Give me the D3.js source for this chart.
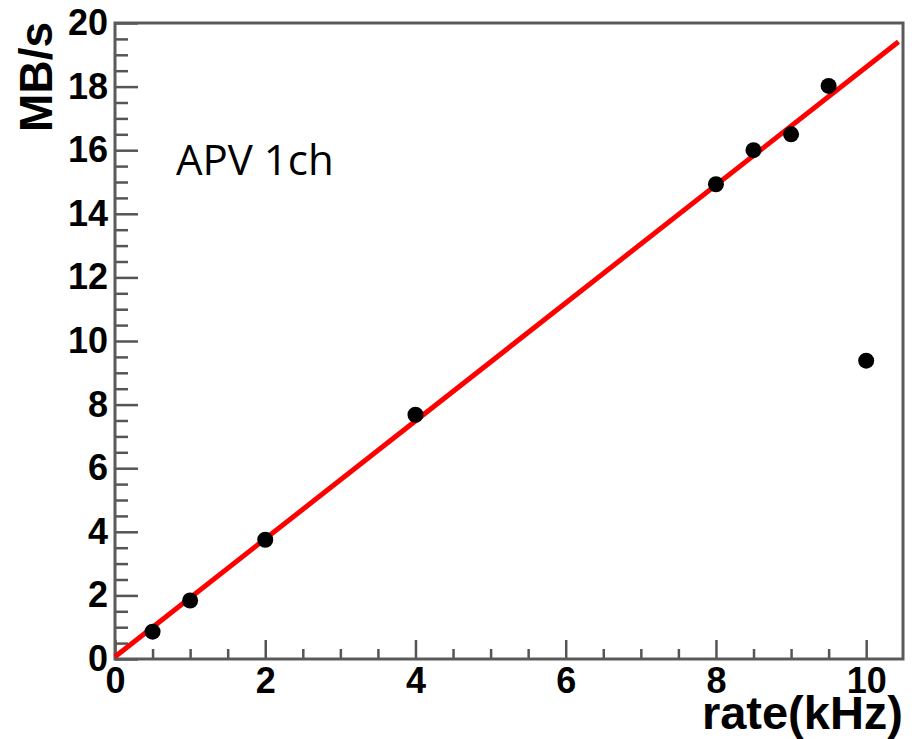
<!DOCTYPE html>
<html>
<head>
<meta charset="utf-8">
<script src="https://cdn.jsdelivr.net/npm/d3@7"></script>
<style>
  body { margin: 0; background: #fff; }
  .tick text { font-family: "Liberation Sans", Arial, sans-serif; font-weight: bold; fill: #000; }
</style>
</head>
<body>
<div id="chart"></div>
<script>
var width = 916, height = 739;

// data
var rate = [0.5, 1, 2, 4, 8, 8.5, 9, 9.5, 10];      // kHz
var mbps = [0.86, 1.84, 3.75, 7.68, 14.93, 16.0, 16.5, 18.02, 9.38]; // MB/s
var fitX = [0, 10.43];       // red fit line end points
var fitY = [0.07, 19.41];
var xTicks = [0, 2, 4, 6, 8, 10];
var yTicks = [0, 2, 4, 6, 8, 10, 12, 14, 16, 18, 20];

var frame = {left: 115, right: 903, top: 23, bottom: 659};

var x = d3.scaleLinear().domain([0, 10.49]).range([frame.left, frame.right]);
var y = d3.scaleLinear().domain([0, 20]).range([frame.bottom, frame.top]);

var svg = d3.select("#chart").append("svg")
    .attr("width", width)
    .attr("height", height);

// minor ticks every 0.5
var xMinor = d3.range(0, 10.5, 0.5).filter(function(v) { return v % 2 != 0; });
var yMinor = d3.range(0, 20, 0.5).filter(function(v) { return v % 2 != 0; });

var gx = svg.append("g").attr("transform", "translate(0," + frame.bottom + ")");
gx.append("g").call(d3.axisBottom(x).tickValues(xMinor).tickSize(-10).tickFormat(""));
gx.append("g").call(d3.axisBottom(x).tickValues(xTicks).tickSize(-19).tickPadding(8).tickFormat(d3.format("d")));

var gy = svg.append("g").attr("transform", "translate(" + frame.left + ",0)");
gy.append("g").call(d3.axisLeft(y).tickValues(yMinor).tickSize(-13).tickFormat(""));
gy.append("g").call(d3.axisLeft(y).tickValues(yTicks).tickSize(-23).tickPadding(7).tickFormat(d3.format("d")));

svg.selectAll(".domain").remove();
svg.selectAll(".tick line").attr("stroke", "#555").attr("stroke-width", 2.5);
svg.selectAll(".tick text").style("font-size", "36px");

// frame
svg.append("rect")
    .attr("x", frame.left).attr("y", frame.top)
    .attr("width", frame.right - frame.left)
    .attr("height", frame.bottom - frame.top)
    .attr("fill", "none")
    .attr("stroke", "#5a5a5a")
    .attr("stroke-width", 3);

// fit line
var line = d3.line()
    .x(function(d, i) { return x(fitX[i]); })
    .y(function(d) { return y(d); });

svg.append("path")
    .datum(fitY)
    .attr("d", line)
    .attr("fill", "none")
    .attr("stroke", "#ff0000")
    .attr("stroke-width", 5);

// points
svg.selectAll("circle.pt")
    .data(rate)
    .enter().append("circle")
    .attr("class", "pt")
    .attr("cx", function(d) { return x(d); })
    .attr("cy", function(d, i) { return y(mbps[i]); })
    .attr("r", 8)
    .attr("fill", "#000");

// axis titles
svg.append("text")
    .attr("transform", "translate(52,22) rotate(-90)")
    .attr("text-anchor", "end")
    .style("font-family", "Liberation Sans, Arial, sans-serif")
    .style("font-weight", "bold")
    .style("font-size", "46px")
    .text("MB/s");

svg.append("text")
    .attr("x", 903)
    .attr("y", 729)
    .attr("text-anchor", "end")
    .style("font-family", "Liberation Sans, Arial, sans-serif")
    .style("font-weight", "bold")
    .style("font-size", "47px")
    .text("rate(kHz)");

svg.append("text")
    .attr("x", 176)
    .attr("y", 175)
    .style("font-family", "Open Sans, sans-serif")
    .style("font-size", "42px")
    .text("APV 1ch");
</script>
</body>
</html>
